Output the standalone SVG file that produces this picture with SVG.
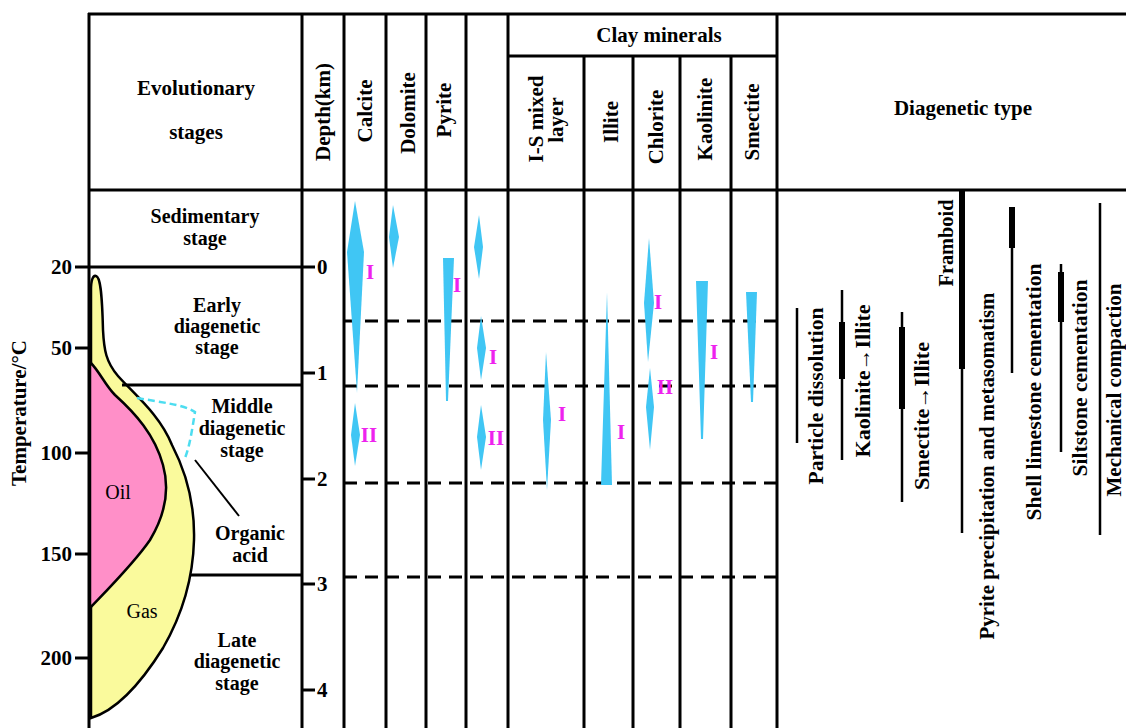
<svg xmlns="http://www.w3.org/2000/svg" width="1126" height="728" viewBox="0 0 1126 728">
<style>
.ln{stroke:#000;stroke-width:3;fill:none}
.dl{stroke:#000;stroke-width:3;fill:none;stroke-dasharray:13 8}
.tk{stroke:#000;stroke-width:3}
.bar{stroke:#000;stroke-width:2.5}
.thk{stroke:#000;stroke-width:6}
.t{font-family:"Liberation Serif","DejaVu Serif","Times New Roman",serif;font-size:21px;font-weight:bold;fill:#000}
.s{font-family:"Liberation Serif","DejaVu Serif","Times New Roman",serif;font-size:20px;font-weight:bold;fill:#000;text-anchor:middle}
.r{font-family:"Liberation Serif","DejaVu Serif","Times New Roman",serif;font-size:20px;fill:#000;text-anchor:middle}
.m{font-family:"Liberation Serif","DejaVu Serif","Times New Roman",serif;font-size:21px;font-weight:bold;fill:#EE22EE;text-anchor:middle}
.c{fill:#40C6F4;stroke:none}
.mid{text-anchor:middle}
.end{text-anchor:end}
</style>
<rect width="1126" height="728" fill="#fff"/>
<g id="frame">
<line class="ln" x1="88" y1="14" x2="1126" y2="14"/>
<line class="ln" x1="88" y1="190" x2="1126" y2="190"/>
<line class="ln" x1="89" y1="13" x2="89" y2="728"/>
<line class="ln" x1="302" y1="13" x2="302" y2="728"/>
<line class="ln" x1="344" y1="13" x2="344" y2="728"/>
<line class="ln" x1="386" y1="13" x2="386" y2="728"/>
<line class="ln" x1="426" y1="13" x2="426" y2="728"/>
<line class="ln" x1="466" y1="13" x2="466" y2="728"/>
<line class="ln" x1="508" y1="13" x2="508" y2="728"/>
<line class="ln" x1="777" y1="13" x2="777" y2="728"/>
<line class="ln" x1="508" y1="56" x2="777" y2="56"/>
<line class="ln" x1="584" y1="56" x2="584" y2="728"/>
<line class="ln" x1="633" y1="56" x2="633" y2="728"/>
<line class="ln" x1="680" y1="56" x2="680" y2="728"/>
<line class="ln" x1="731" y1="56" x2="731" y2="728"/>
</g>
<g id="headers">
<text class="t mid" x="196" y="95">Evolutionary</text>
<text class="t mid" x="196" y="139">stages</text>
<text class="t mid" transform="translate(330,112) rotate(-90)">Depth(km)</text>
<text class="t mid" transform="translate(372,111) rotate(-90)">Calcite</text>
<text class="t mid" transform="translate(415,113) rotate(-90)">Dolomite</text>
<text class="t mid" transform="translate(451,110) rotate(-90)">Pyrite</text>
<text class="t mid" x="659" y="42">Clay minerals</text>
<text class="t mid" transform="translate(543,119) rotate(-90)">I-S mixed</text>
<text class="t mid" transform="translate(563,120) rotate(-90)">layer</text>
<text class="t mid" transform="translate(618,122) rotate(-90)">Illite</text>
<text class="t mid" transform="translate(663,127) rotate(-90)">Chlorite</text>
<text class="t mid" transform="translate(712,119) rotate(-90)">Kaolinite</text>
<text class="t mid" transform="translate(759,122) rotate(-90)">Smectite</text>
<text class="t mid" x="963" y="115">Diagenetic type</text>
</g>
<g id="axes">
<text class="t mid" transform="translate(26,413) rotate(-90)">Temperature/°C</text>
<line class="tk" x1="75" y1="267" x2="89" y2="267"/>
<line class="tk" x1="75" y1="348" x2="89" y2="348"/>
<line class="tk" x1="75" y1="453" x2="89" y2="453"/>
<line class="tk" x1="75" y1="554" x2="89" y2="554"/>
<line class="tk" x1="75" y1="658" x2="89" y2="658"/>
<text class="t end" x="72" y="274">20</text>
<text class="t end" x="72" y="355">50</text>
<text class="t end" x="72" y="460">100</text>
<text class="t end" x="72" y="561">150</text>
<text class="t end" x="72" y="665">200</text>
<line class="tk" x1="302" y1="267" x2="315" y2="267"/>
<line class="tk" x1="302" y1="373" x2="315" y2="373"/>
<line class="tk" x1="302" y1="479" x2="315" y2="479"/>
<line class="tk" x1="302" y1="584" x2="315" y2="584"/>
<line class="tk" x1="302" y1="690" x2="315" y2="690"/>
<text class="t" x="317" y="274">0</text>
<text class="t" x="317" y="380">1</text>
<text class="t" x="317" y="486">2</text>
<text class="t" x="317" y="591">3</text>
<text class="t" x="317" y="697">4</text>
</g>
<g id="hydrocarbon">
<path d="M91,718 L91,290 C91,280 93,275 96,276 C100,277 102,290 103,330 C104,350 106,362 118,376 C135,395 160,415 172,445 C185,470 195,500 194,540 C193,580 182,615 163,648 C143,680 118,710 91,718 Z" fill="#FAFA9C" stroke="#000" stroke-width="2.5"/>
<path d="M90,362 C100,372 105,385 115,395 C135,413 155,435 163,465 C170,490 165,515 150,540 C135,562 112,585 90,608 Z" fill="#FF8FC8" stroke="#000" stroke-width="2.5"/>
<path d="M137,398 C160,402 185,405 195,412 C192,430 190,445 185,458" fill="none" stroke="#4DDDF0" stroke-width="2.5" stroke-dasharray="7 4"/>
<line x1="195" y1="460" x2="239" y2="516" stroke="#000" stroke-width="2"/>
<text class="r" x="118" y="499">Oil</text>
<text class="r" x="142" y="618">Gas</text>
</g>
<g id="stages">
<line class="ln" x1="89" y1="267" x2="302" y2="267"/>
<line class="ln" x1="122" y1="385" x2="302" y2="385"/>
<line class="ln" x1="191" y1="575" x2="302" y2="575"/>
<text class="s" x="205" y="223">Sedimentary</text>
<text class="s" x="205" y="245">stage</text>
<text class="s" x="217" y="312">Early</text>
<text class="s" x="217" y="333">diagenetic</text>
<text class="s" x="217" y="354">stage</text>
<text class="s" x="242" y="413">Middle</text>
<text class="s" x="242" y="435">diagenetic</text>
<text class="s" x="242" y="457">stage</text>
<text class="s" x="250" y="540">Organic</text>
<text class="s" x="250" y="562">acid</text>
<text class="s" x="237" y="647">Late</text>
<text class="s" x="237" y="668">diagenetic</text>
<text class="s" x="237" y="690">stage</text>
</g>
<g id="boundaries">
<line class="dl" x1="344" y1="321" x2="777" y2="321"/>
<line class="dl" x1="344" y1="386" x2="777" y2="386"/>
<line class="dl" x1="344" y1="483" x2="777" y2="483"/>
<line class="dl" x1="344" y1="577" x2="777" y2="577"/>
</g>
<g id="minerals">
<polygon class="c" points="355,201 364,252 357,393 347,252"/>
<polygon class="c" points="355,403 360,435 355,466 351,435"/>
<polygon class="c" points="393,205 399,237 393,268 389,237"/>
<polygon class="c" points="443,258 454,258 448,401 446,401"/>
<polygon class="c" points="479,215 483,247 479,279 474,247"/>
<polygon class="c" points="481,316 486,348 481,380 477,348"/>
<polygon class="c" points="481,405 486,437 481,470 477,437"/>
<polygon class="c" points="546,352 551,420 547,490 543,420"/>
<polygon class="c" points="607,292 612,485 601,485"/>
<polygon class="c" points="649,238 654,303 648,362 644,303"/>
<polygon class="c" points="650,368 654,407 650,450 646,407"/>
<polygon class="c" points="696,281 708,281 703,439 701,439"/>
<polygon class="c" points="746,292 757,292 753,402 751,402"/>
<text class="m" x="370" y="279">I</text>
<text class="m" x="369" y="442">II</text>
<text class="m" x="457" y="292">I</text>
<text class="m" x="493" y="364">I</text>
<text class="m" x="496" y="445">II</text>
<text class="m" x="562" y="421">I</text>
<text class="m" x="621" y="439">I</text>
<text class="m" x="658" y="309">I</text>
<text class="m" x="665" y="394">II</text>
<text class="m" x="714" y="359">I</text>
</g>
<g id="diagenetic-types">
<line class="bar" x1="797" y1="308" x2="797" y2="443"/>
<line class="bar" x1="842" y1="290" x2="842" y2="460"/>
<line class="thk" x1="842" y1="322" x2="842" y2="379"/>
<line class="bar" x1="902" y1="312" x2="902" y2="502"/>
<line class="thk" x1="902" y1="327" x2="902" y2="409"/>
<line class="bar" x1="962" y1="191" x2="962" y2="533"/>
<line class="thk" x1="962" y1="191" x2="962" y2="369"/>
<line class="bar" x1="1012" y1="207" x2="1012" y2="373"/>
<line class="thk" x1="1012" y1="207" x2="1012" y2="248"/>
<line class="bar" x1="1061" y1="264" x2="1061" y2="452"/>
<line class="thk" x1="1061" y1="272" x2="1061" y2="322"/>
<line class="bar" x1="1100" y1="203" x2="1100" y2="535"/>
<text class="t mid" transform="translate(823,396) rotate(-90)" textLength="177" lengthAdjust="spacingAndGlyphs">Particle dissolution</text>
<text class="t mid" transform="translate(870,381) rotate(-90)" textLength="153" lengthAdjust="spacingAndGlyphs">Kaolinite→Illite</text>
<text class="t mid" transform="translate(929,416) rotate(-90)" textLength="148" lengthAdjust="spacingAndGlyphs">Smectite→Illite</text>
<text class="t mid" transform="translate(953,243) rotate(-90)" textLength="87" lengthAdjust="spacingAndGlyphs">Framboid</text>
<text class="t mid" transform="translate(994,466) rotate(-90)" textLength="347" lengthAdjust="spacingAndGlyphs">Pyrite precipitation and metasomatism</text>
<text class="t mid" transform="translate(1041,392) rotate(-90)" textLength="257" lengthAdjust="spacingAndGlyphs">Shell limestone cementation</text>
<text class="t mid" transform="translate(1087,378) rotate(-90)" textLength="197" lengthAdjust="spacingAndGlyphs">Siltstone cementation</text>
<text class="t mid" transform="translate(1121,390) rotate(-90)" textLength="213" lengthAdjust="spacingAndGlyphs">Mechanical compaction</text>
</g>
</svg>
